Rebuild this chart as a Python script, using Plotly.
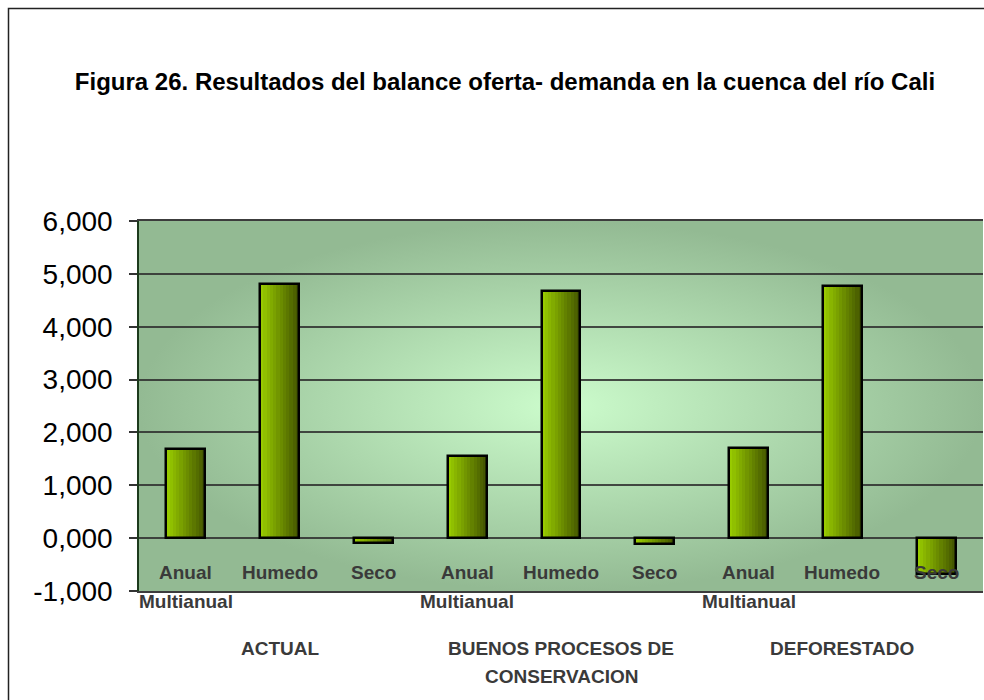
import base64
import plotly.graph_objects as go

# ---------------- data ----------------
groups = ["ACTUAL", "BUENOS PROCESOS DE<br>CONSERVACION", "DEFORESTADO"]
periods = ["Anual<br>Multianual", "Humedo", "Seco"]
actual = [1690, 4810, -100]
buenos = [1560, 4680, -120]
deforestado = [1710, 4770, -680]
tick_vals = [-1000, 0, 1000, 2000, 3000, 4000, 5000, 6000]
tick_text = ["-1,000", "0,000", "1,000", "2,000", "3,000", "4,000", "5,000", "6,000"]
title_text = "Figura 26. Resultados del balance oferta- demanda en la cuenca del río Cali"

values = actual + buenos + deforestado
labels = periods * len(groups)
xpos = list(range(len(values)))

BOLD = "Liberation Sans, Arial, sans-serif"
ARIAL = "Liberation Sans, Arial, sans-serif"

fig = go.Figure()

# bars: horizontal gradient built from overlapping strips
BAR_W = 0.415
N = 12
c0 = (0x98, 0xca, 0x00)
c1 = (0x45, 0x58, 0x00)
for k in range(N):
    t = k / (N - 1)
    col = "rgb(%d,%d,%d)" % tuple(round(a + (b - a) * t) for a, b in zip(c0, c1))
    fig.add_trace(go.Bar(
        x=xpos, y=values,
        width=BAR_W - k * BAR_W / N,
        offset=-BAR_W / 2 + k * BAR_W / N,
        marker=dict(color=col, line=dict(width=0)),
        showlegend=False, hoverinfo="skip",
    ))
fig.add_trace(go.Bar(
    x=xpos, y=values, width=BAR_W, offset=-BAR_W / 2,
    marker=dict(color="rgba(0,0,0,0)", line=dict(color="black", width=2.5)),
    showlegend=False,
))

# radial gradient background for the plot area
svg = (
    "<svg xmlns='http://www.w3.org/2000/svg' width='844' height='370' preserveAspectRatio='none'>"
    "<defs><radialGradient id='g' cx='0.5' cy='0.5' r='0.5'>"
    "<stop offset='0' stop-color='#ccfccc'/>"
    "<stop offset='1' stop-color='#93ba93'/>"
    "</radialGradient></defs>"
    "<rect x='0' y='0' width='844' height='370' fill='url(#g)'/></svg>"
)
svg_uri = "data:image/svg+xml;base64," + base64.b64encode(svg.encode()).decode()

annotations = []
for i, lab in enumerate(labels):
    for j, line in enumerate(lab.split("<br>")):
        annotations.append(dict(
            x=i, y=0, xref="x", yref="y", text="<b>%s</b>" % line, showarrow=False,
            xanchor="center", yanchor="middle", yshift=-34 - 29 * j,
            font=dict(family=BOLD, size=19, color="#3a3a3a"),
        ))
for g, grp in enumerate(groups):
    for j, line in enumerate(grp.split("<br>")):
        annotations.append(dict(
            x=g * 3 + 1, y=0, xref="x", yref="paper", text="<b>%s</b>" % line, showarrow=False,
            xanchor="center", yanchor="middle", yshift=-57 - 28 * j,
            font=dict(family=BOLD, size=19, color="#3a3a3a"),
        ))

fig.update_layout(
    width=984, height=700,
    margin=dict(l=139, r=1, t=221, b=109),
    paper_bgcolor="white",
    plot_bgcolor="#a9d0a9",
    barmode="overlay",
    title=dict(text="<b>%s</b>" % title_text, x=505 / 984, xanchor="center",
               y=1 - 82 / 700, yanchor="middle",
               font=dict(family=BOLD, size=24, color="black")),
    xaxis=dict(range=[-0.5, len(values) - 0.5], showticklabels=False, showgrid=False,
               zeroline=False, showline=True, linecolor="#3c3c3c", linewidth=1.5,
               mirror=True, ticks=""),
    yaxis=dict(range=[-1000, 6000], tickvals=tick_vals, ticktext=tick_text,
               showgrid=True, gridcolor="rgba(45,45,45,0.85)", gridwidth=1.8,
               zeroline=False, showline=True, linecolor="#1c3a1c", linewidth=1.5,
               ticks="outside", ticklen=8, tickcolor="#333", tickwidth=1.5,
               ticklabelstandoff=11,
               tickfont=dict(family=ARIAL, size=28, color="black")),
    images=[dict(source=svg_uri, xref="paper", yref="paper", x=0, y=1, sizex=1, sizey=1,
                 xanchor="left", yanchor="top", sizing="stretch", layer="below")],
    shapes=[dict(type="rect", xref="paper", yref="paper",
                 x0=(8.5 - 139) / 844, x1=1.2, y0=-0.5, y1=(591 - 8.5) / 370,
                 line=dict(color="#222", width=1.5), fillcolor="rgba(0,0,0,0)", layer="below")],
    annotations=annotations,
    bargap=0,
)

fig.write_html("out.html", config={"displayModeBar": False},
               post_script="document.body.style.margin='0';")
